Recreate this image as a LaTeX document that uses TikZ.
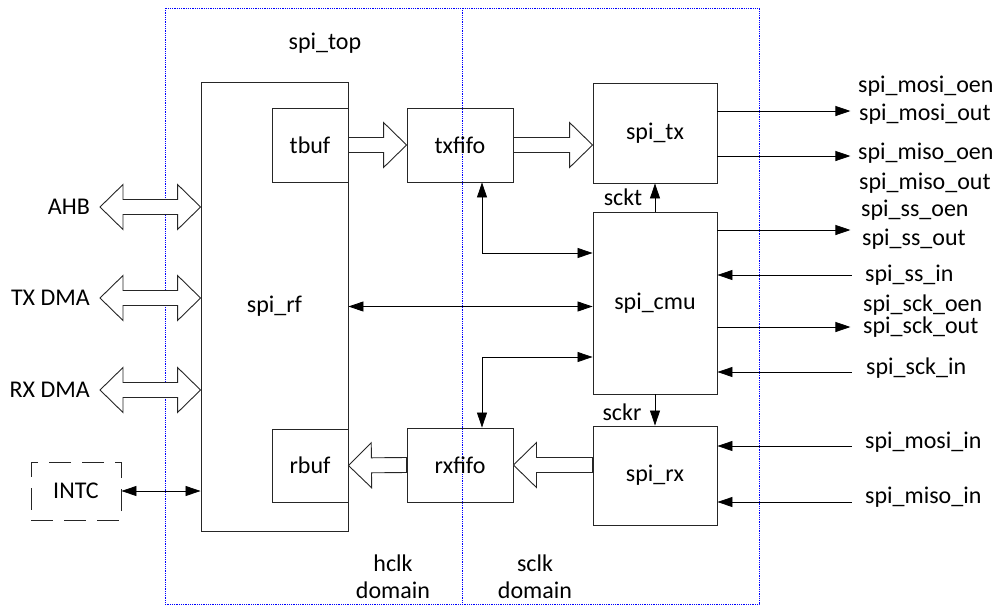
\documentclass[tikz,border=0pt]{standalone}
\usepackage{fontspec}
\setmainfont{Carlito}
\usetikzlibrary{arrows.meta,positioning,calc}

% hollow bus arrows, tail -> tip
\newcommand{\fatarrow}[2]{%
  \draw[fat] ($(#1)!7.5pt!90:(#2)$) -- ($(#2)!23pt!(#1)!7.5pt!-90:(#1)$) -- ($(#2)!23pt!(#1)!22.5pt!-90:(#1)$)
    -- (#2) -- ($(#2)!23pt!(#1)!22.5pt!90:(#1)$) -- ($(#2)!23pt!(#1)!7.5pt!90:(#1)$) -- ($(#1)!7.5pt!-90:(#2)$) -- cycle;}
\newcommand{\fatboth}[2]{%
  \draw[fat] (#1) -- ($(#1)!23pt!(#2)!22.5pt!90:(#2)$) -- ($(#1)!23pt!(#2)!7.5pt!90:(#2)$)
    -- ($(#2)!23pt!(#1)!7.5pt!-90:(#1)$) -- ($(#2)!23pt!(#1)!22.5pt!-90:(#1)$) -- (#2)
    -- ($(#2)!23pt!(#1)!22.5pt!90:(#1)$) -- ($(#2)!23pt!(#1)!7.5pt!90:(#1)$)
    -- ($(#1)!23pt!(#2)!7.5pt!-90:(#2)$) -- ($(#1)!23pt!(#2)!22.5pt!-90:(#2)$) -- cycle;}

\begin{document}
\begin{tikzpicture}[x=1pt, y=-1pt, font=\fontsize{24}{27}\selectfont,
    >={Triangle[length=15pt,width=10pt]},
    blk/.style={draw=black!85, line width=0.9pt, inner sep=0pt},
    fat/.style={draw=black!85, line width=0.9pt, fill=white},
    wire/.style={draw=black, line width=0.8pt},
    zone/.style={draw=blue, densely dotted, line width=0.8pt}]
    \useasboundingbox (0,0) rectangle (1001,606);

    % clock domains
    \draw[zone] (165,8) rectangle (759,604);
    \draw[zone] (462,8) -- (462,604);
    \node (top) at (325,43) {spi\_top};
    \node[align=center] (hclk) at (393,577) {hclk\\domain};
    \node[align=center] (sclk) at (535,577) {sclk\\domain};

    % blocks
    \node[blk, minimum width=147, minimum height=449] (spirf) at (274.5,306.5) {spi\_rf};
    \node[blk, minimum width=76, minimum height=74] (tbuf) at (310,145) {tbuf};
    \node[blk, minimum width=106, minimum height=74] (txfifo) at (460,145) {txfifo};
    \node[blk, minimum width=124, minimum height=100] (spitx) at (655,133) {spi\_tx};
    \node[blk, minimum width=124, minimum height=182] (spicmu) at (655,303) {spi\_cmu};
    \node[blk, minimum width=124, minimum height=99] (spirx) at (655,475.5) {spi\_rx};
    \node[blk, minimum width=106, minimum height=74] (rxfifo) at (460,465) {rxfifo};
    \node[blk, minimum width=76, minimum height=73] (rbuf) at (310,465.5) {rbuf};
    \node[blk, dash pattern=on 22pt off 11pt, minimum width=90, minimum height=58] (intc) at (76,491) {INTC};

    % data path
    \coordinate (txin) at (txfifo.east -| spitx.west);
    \coordinate (rxout) at (rxfifo.east -| spirx.west);
    \fatarrow{tbuf.east}{txfifo.west}
    \fatarrow{txfifo.east}{txin}
    \fatarrow{rxout}{rxfifo.east}
    \fatarrow{rxfifo.west}{rbuf.east}

    % system buses
    \foreach \y/\name/\txt in {207/ahb/AHB, 298/txdma/TX DMA, 390/rxdma/RX DMA} {
        \coordinate (\name) at (100,\y);
        \coordinate (\name-r) at (\name -| spirf.west);
        \fatboth{\name}{\name-r}
        \node[anchor=east, inner sep=0pt] (\name-l) at (90,\y) {\txt};
    }
    \draw[wire,<->] (intc.east) -- (intc.east -| spirf.west);

    % clocks and control
    \draw[wire,->] (spicmu.north) -- (spitx.south);
    \node (sckt) at (623,197) {sckt};
    \draw[wire,->] (spicmu.south) -- (spirx.north);
    \node (sckr) at (622,412) {sckr};
    \draw[wire,<->] ([xshift=22pt]txfifo.south) |- ([yshift=50pt]spicmu.west);
    \draw[wire,<->] (spirf.east) -- (spirf.east -| spicmu.west);
    \draw[wire,<->] ([xshift=22pt]rxfifo.north) |- ([yshift=-54pt]spicmu.west);

    % pins
    \foreach \blk/\dy/\name in {spitx/22/mosio, spitx/-23/misoo, spicmu/73/sso, spicmu/-24/scko}
        \draw[wire,->] ([yshift=\dy pt]\blk.east) -- ++(133,0) coordinate (\name);
    \foreach \blk/\dy/\name in {spicmu/28/ssi, spicmu/-69/scki, spirx/29.5/mosii, spirx/-26.5/misoi}
        \draw[wire,<-] ([yshift=\dy pt]\blk.east) -- ++(135,0) coordinate (\name);
    \foreach \y/\x/\txt in {86/858/spi\_mosi\_oen, 114/859/spi\_mosi\_out, 153/858/spi\_miso\_oen,
        183/859/spi\_miso\_out, 210/861/spi\_ss\_oen, 239/862/spi\_ss\_out, 275/865/spi\_ss\_in,
        305/863/spi\_sck\_oen, 327/863/spi\_sck\_out, 368/866/spi\_sck\_in,
        442/865/spi\_mosi\_in, 497/865/spi\_miso\_in}
        \node[anchor=west, inner sep=0pt] (pin-\y) at (\x,\y) {\txt};
\end{tikzpicture}
\end{document}
